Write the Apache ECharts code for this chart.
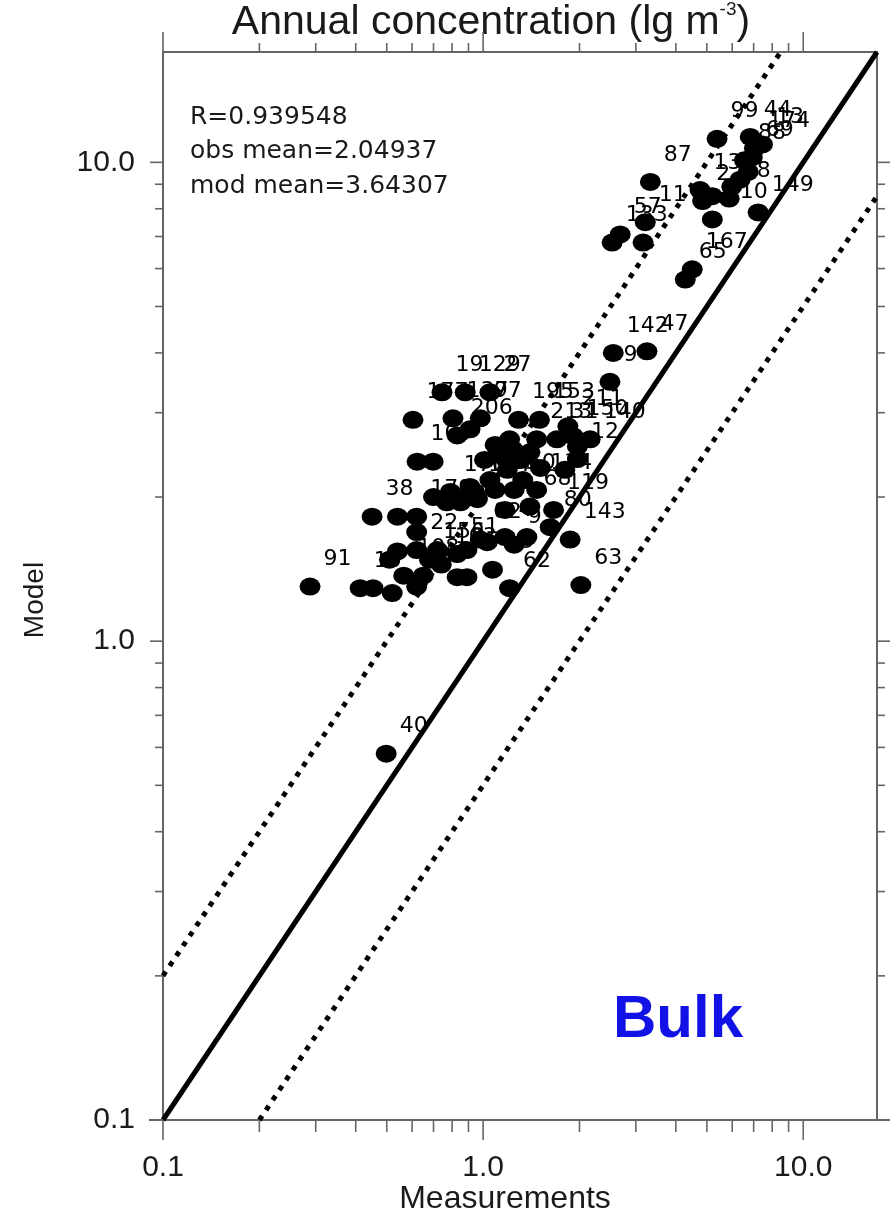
<!DOCTYPE html>
<html><head><meta charset="utf-8">
<script src="https://cdn.jsdelivr.net/npm/echarts@6/dist/echarts.min.js"></script>
<style>html,body{margin:0;padding:0;background:#fff}#c{width:892px;height:1218px}</style>
</head><body><div id="c"></div>
<script>
// ---- data ----
const stationIds = ["99","44","13","174","88","69","","","","28","131","2","",
  "87","11","57","133","","110","149","167","65",
  "142","47","9",
  "19","129","27","177","137","97","206","",
  "195","153","211","213","31","150","140","","12","",
  "109","","","","","",
  "170","124","29","60","","","","134","","","",
  "5","68","119","80","143","9","4","82","51","62","","","15","","63",
  "","","","179","38","","","22","","156","","",
  "91","10","","","108","","","","","103","40",
  "","","","",""];
const measured = [5.38,6.83,7.46,7.04,6.55,6.93,6.73,6.35,5.98,5.87,4.76,4.85,5.2,
  3.33,3.21,2.68,2.53,3.16,5.2,7.23,4.5,4.28,
  2.55,3.25,2.49,
  0.744,0.879,1.05,0.604,0.805,0.98,0.83,0.91,
  1.29,1.5,1.84,1.47,1.70,1.91,2.16,1.97,1.97,1.80,
  0.622,0.698,1.13,1.24,1.40,1.51,
  0.79,0.94,1.09,1.25,1.19,1.05,1.33,1.47,0.91,0.96,0.85,
  1.17,1.40,1.66,1.62,1.87,1.25,1.17,0.98,0.83,1.21,1.03,0.89,1.07,1.37,2.02,
  0.70,0.77,0.87,0.62,0.45,0.54,0.62,0.62,0.72,0.68,0.54,0.51,
  0.288,0.413,0.453,0.52,0.565,0.62,0.65,0.83,0.89,0.74,0.498,
  1.09,1.21,1.31,1.01,1.17];
const modelled = [11.2,11.3,10.9,10.7,10.1,10.25,9.55,9.2,8.9,8.4,8.75,8.3,8.5,
  9.1,7.5,7.07,6.8,6.8,7.6,7.86,5.98,5.69,
  4.0,4.03,3.48,
  3.31,3.31,3.31,2.90,2.92,2.92,2.69,2.77,
  2.90,2.90,2.81,2.64,2.64,2.68,2.64,2.55,2.40,2.28,
  2.37,2.37,2.48,2.51,2.48,2.30,
  2.05,2.05,2.07,2.07,2.28,2.17,2.17,2.07,2.10,1.98,1.95,
  1.88,1.91,1.88,1.73,1.63,1.59,1.65,1.63,1.52,1.29,1.61,1.55,1.41,1.65,1.31,
  2.0,1.95,1.98,1.82,1.82,1.82,1.69,1.55,1.55,1.48,1.54,1.48,
  1.30,1.29,1.29,1.26,1.37,1.30,1.37,1.36,1.36,1.445,0.582,
  2.57,2.64,2.39,2.39,2.41];
const axisMin = 0.1, axisMax = 17;
const majorTicks = [0.1, 1, 10];
const minorTicks = [0.2,0.3,0.4,0.5,0.6,0.7,0.8,0.9,2,3,4,5,6,7,8,9];
const tickLabels = ["0.1","1.0","10.0"];
const oneToOne = [[0.1,0.1],[17,17]];
const factor2Upper = [[0.1,0.2],[8.5,17]];
const factor2Lower = [[0.2,0.1],[17,8.5]];
const statsLines = ["R=0.939548","obs mean=2.04937","mod mean=3.64307"];
const titleMain = "Annual concentration (lg m", titleSup = "-3", titleEnd = ")";
const xTitle = "Measurements", yTitle = "Model", panelTag = "Bulk";

// ---- chart ----
const AX_FONT = "'Liberation Sans', Arial, sans-serif";
const TX_FONT = "'DejaVu Sans', sans-serif";
const chart = echarts.init(document.getElementById('c'));
const labelFmt = v => { const e = Math.log10(v); const k = Math.round(e); return Math.abs(e - k) < 1e-6 && tickLabels[k + 1] !== undefined ? tickLabels[k + 1] : ''; };
const logAxis = (isX) => ({
  type: 'log', logBase: 10, min: axisMin, max: axisMax,
  axisLine: { show: false }, axisTick: { show: false }, splitLine: { show: false },
  axisLabel: { formatter: labelFmt, fontFamily: AX_FONT, fontSize: 30, color: '#1a1a1a',
    margin: isX ? 33 : 28, showMaxLabel: false }
});
const scatterData = measured.map((m, i) => ({ value: [m, modelled[i]], name: stationIds[i] }));
const refLine = (d, dotted, w) => ({ type: 'line', data: d, symbol: 'none', silent: true, z: 2,
  lineStyle: { color: '#000', width: w, type: dotted ? [5, 7] : 'solid', cap: 'butt' } });
const tickData = majorTicks.map(v => [v, v, 1]).concat(minorTicks.map(v => [v, v, 0]));

chart.setOption({
  animation: false,
  grid: { left: 163, right: 15, top: 52, bottom: 98, show: true, borderColor: '#666', borderWidth: 2 },
  xAxis: logAxis(true),
  yAxis: logAxis(false),
  series: [
    refLine(factor2Upper, true, 5),
    refLine(factor2Lower, true, 5),
    refLine(oneToOne, false, 5),
    { type: 'scatter', data: scatterData, symbol: 'circle', symbolSize: [21, 18], z: 3,
      itemStyle: { color: '#000', opacity: 1 },
      label: { show: true, formatter: p => p.name, position: 'right', distance: 3, offset: [0, -27],
        fontFamily: TX_FONT, fontSize: 22, color: '#000' } },
    { type: 'custom', coordinateSystem: 'cartesian2d', clip: false, silent: true, z: 5,
      data: tickData, encode: { x: 0, y: 1 },
      renderItem(params, api) {
        const v = api.value(0), major = api.value(2) === 1;
        const b = api.coord([v, axisMin]), t = api.coord([v, axisMax]);
        const l = api.coord([axisMin, v]), r = api.coord([axisMax, v]);
        const st = { stroke: '#666', lineWidth: 1.6 };
        const lb = major ? 20 : 12, lt = major ? 20 : 9, ll = major ? 13 : 8, lr = major ? 13 : 8;
        return { type: 'group', children: [
          { type: 'line', shape: { x1: b[0], y1: b[1], x2: b[0], y2: b[1] + lb }, style: st },
          { type: 'line', shape: { x1: t[0], y1: t[1], x2: t[0], y2: t[1] - lt }, style: st },
          { type: 'line', shape: { x1: l[0], y1: l[1], x2: l[0] - ll, y2: l[1] }, style: st },
          { type: 'line', shape: { x1: r[0], y1: r[1], x2: r[0] + lr, y2: r[1] }, style: st }
        ] };
      } }
  ],
  graphic: [
    { type: 'text', x: 491, y: 23, style: { text: '{a|' + titleMain + '}{s|' + titleSup + '}{a|' + titleEnd + '}',
      align: 'center', verticalAlign: 'middle',
      rich: { a: { fontFamily: AX_FONT, fontSize: 41, lineHeight: 46, fill: '#1a1a1a' },
              s: { fontFamily: AX_FONT, fontSize: 19, lineHeight: 46, verticalAlign: 'top', fill: '#1a1a1a' } } } },
    ...statsLines.map((s, i) => ({ type: 'text', x: 190, y: 117 + i * 34.5,
      style: { text: s, font: '25px ' + TX_FONT, fill: '#1a1a1a', verticalAlign: 'middle' } })),
    { type: 'text', x: 505, y: 1199, style: { text: xTitle, font: '32px ' + AX_FONT, fill: '#1a1a1a', align: 'center', verticalAlign: 'middle' } },
    { type: 'text', x: 35, y: 600, rotation: Math.PI / 2, style: { text: yTitle, font: '28px ' + AX_FONT, fill: '#1a1a1a', align: 'center', verticalAlign: 'middle' } },
    { type: 'text', x: 678, y: 1020, style: { text: panelTag, font: 'bold 60px ' + AX_FONT, fill: '#1212e6', align: 'center', verticalAlign: 'middle' } },
    { type: 'line', shape: { x1: 149, y1: 1120, x2: 890, y2: 1120 }, style: { stroke: '#666', lineWidth: 2 } }
  ]
});
</script></body></html>
